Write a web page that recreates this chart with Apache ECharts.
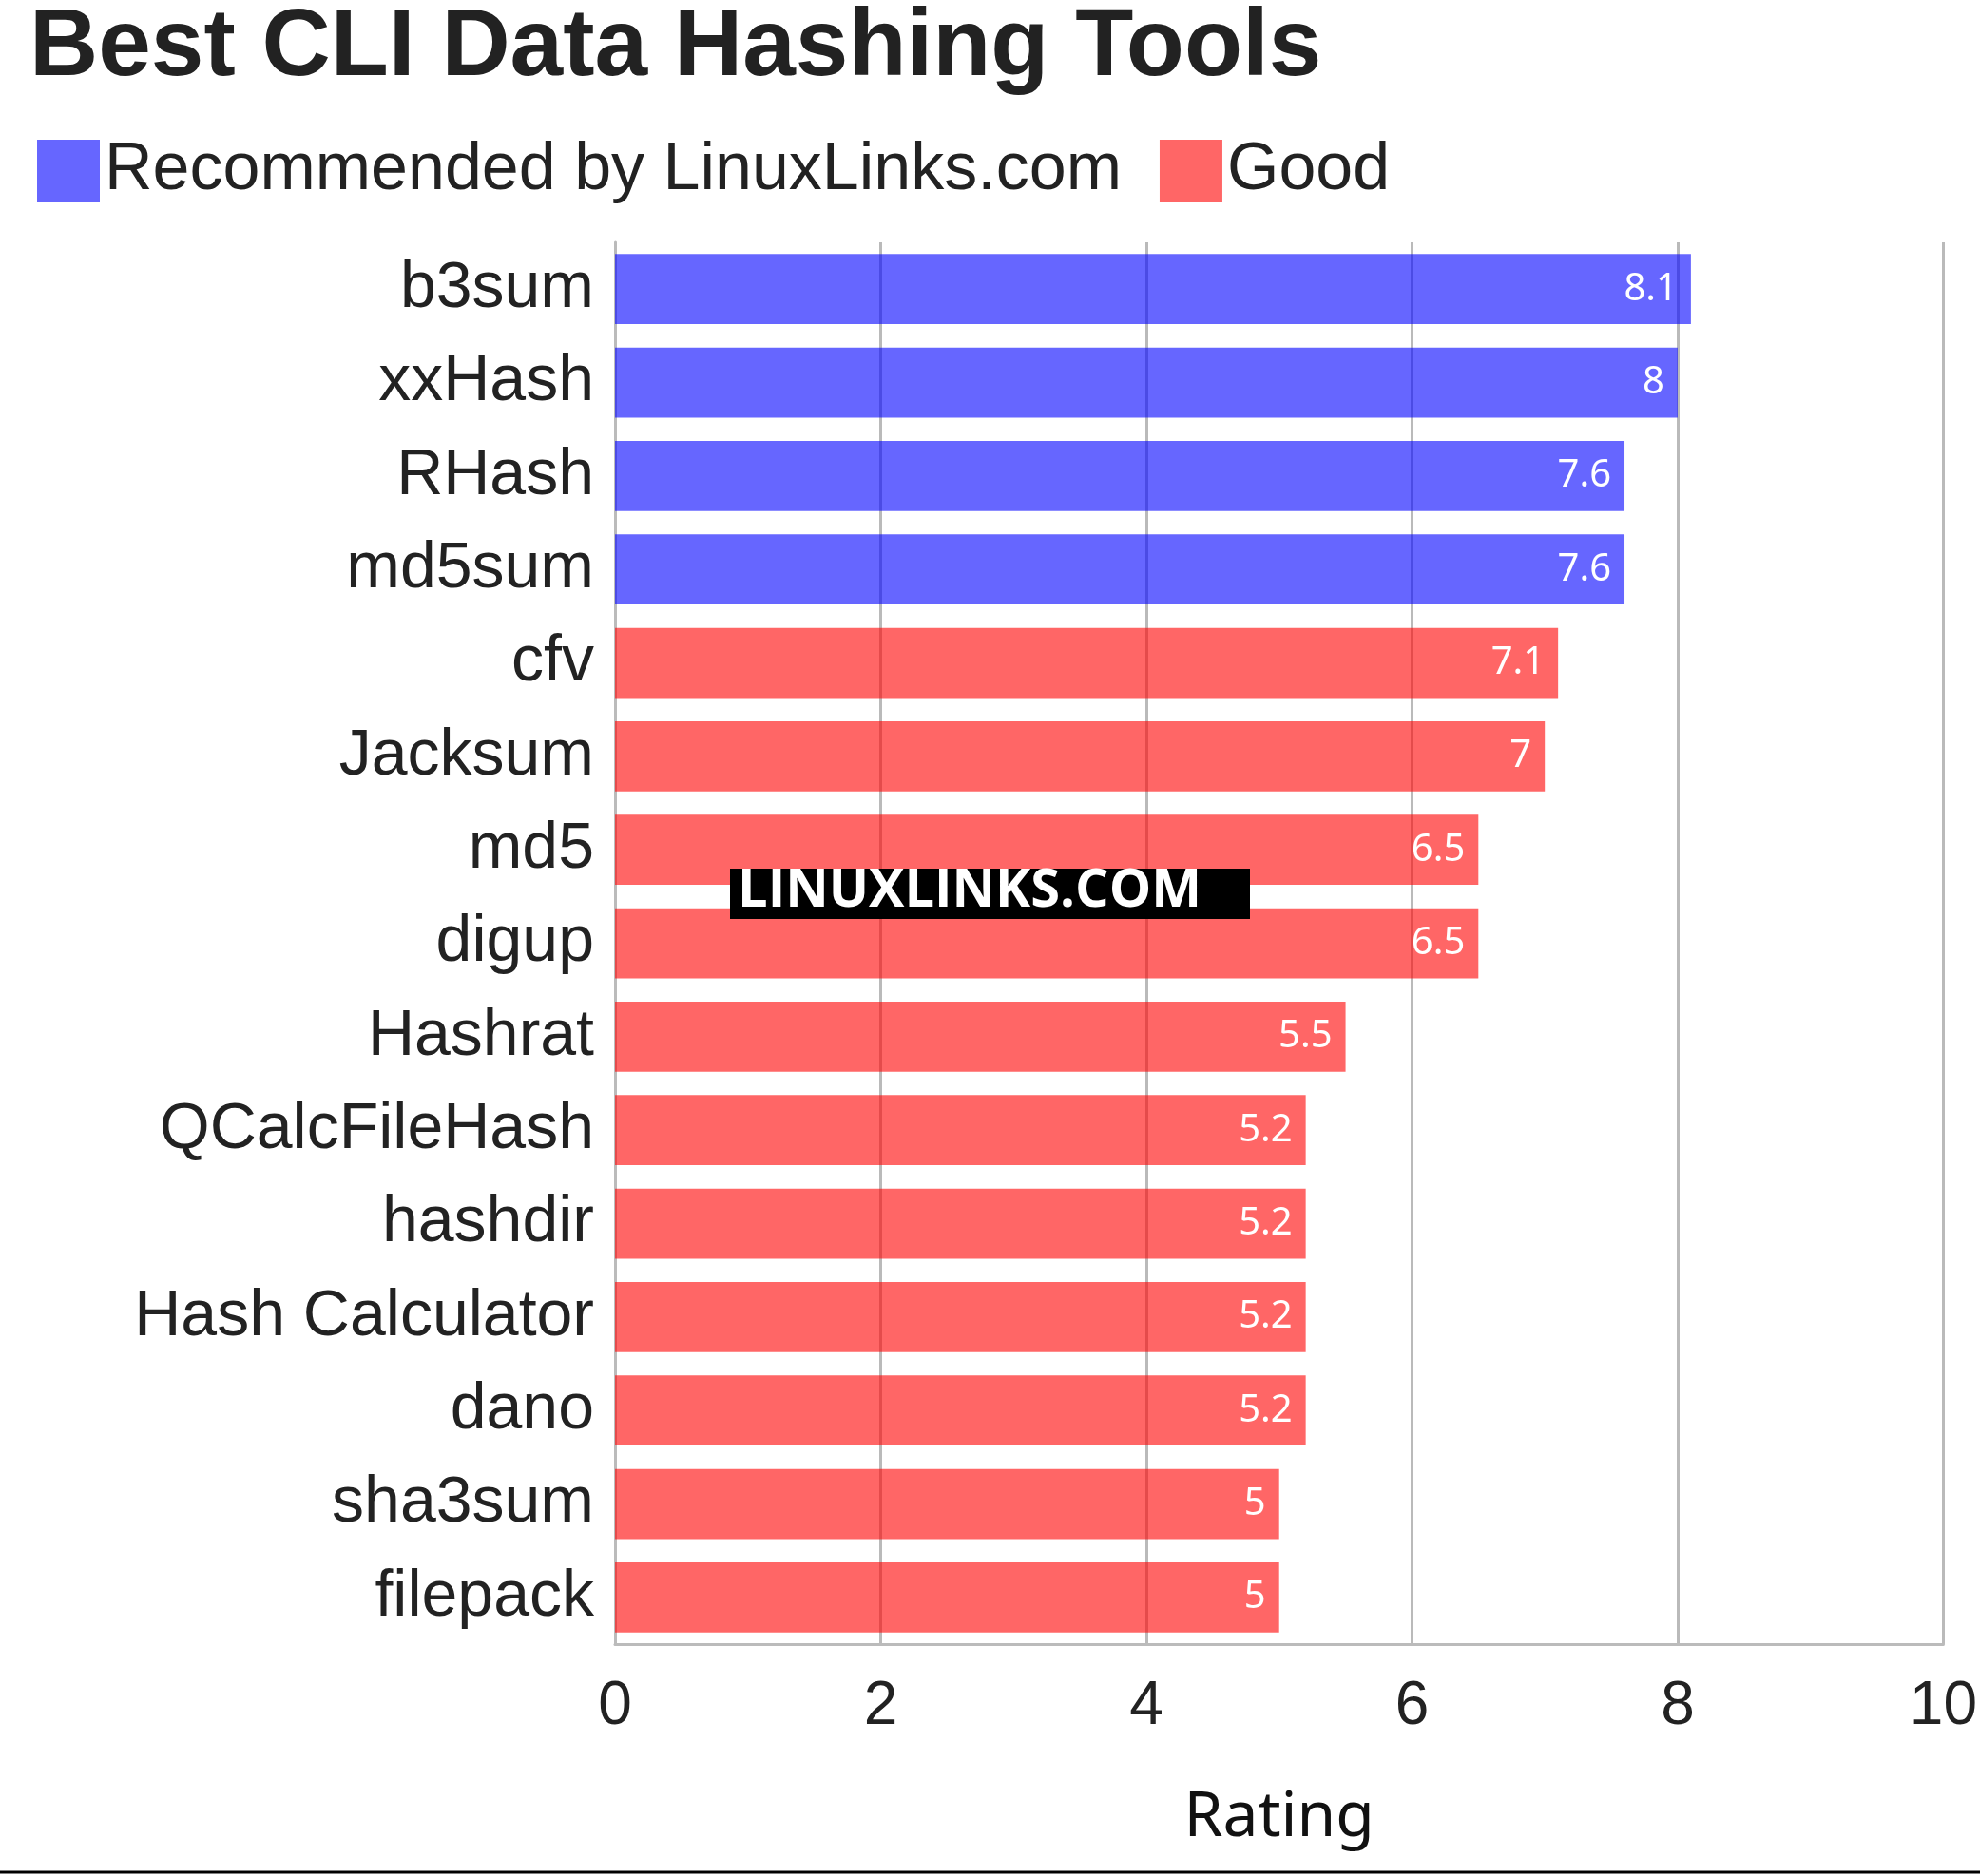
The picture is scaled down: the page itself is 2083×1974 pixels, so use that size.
<!DOCTYPE html>
<html><head><meta charset="utf-8">
<script src="https://cdn.jsdelivr.net/npm/echarts@6/dist/echarts.min.js"></script>
<style>html,body{margin:0;padding:0;background:#fff}#c{width:2083px;height:1974px}</style>
</head><body><div id="c"></div>
<script>
const categories = ["b3sum","xxHash","RHash","md5sum","cfv","Jacksum","md5","digup","Hashrat","QCalcFileHash","hashdir","Hash Calculator","dano","sha3sum","filepack"];
const recommended = [8.1,8,7.6,7.6,null,null,null,null,null,null,null,null,null,null,null];
const good = [null,null,null,null,7.1,7,6.5,6.5,5.5,5.2,5.2,5.2,5.2,5,5];
const xTicks = [0,2,4,6,8,10];

const chart = echarts.init(document.getElementById('c'));
const lbl = {show:true,position:'insideRight',color:'#fff',fontFamily:'Noto Sans',fontSize:40,distance:14,
  formatter:p=>p.value==null?'':String(p.value)};
chart.setOption({
  animation:false,
  title:{text:'Best CLI Data Hashing Tools',left:26,top:-4,textStyle:{fontFamily:'Liberation Sans',fontWeight:'bold',fontSize:100,color:'#222'}},
  legend:{left:34,top:140,itemWidth:66,itemHeight:66,itemGap:40,icon:'rect',
    textStyle:{fontFamily:'Liberation Sans',fontSize:70,color:'#222'},data:['Recommended by LinuxLinks.com','Good']},
  grid:{left:647,right:26,top:255,bottom:244,containLabel:false},
  xAxis:{type:'value',min:0,max:10,interval:2,
    axisLine:{show:true,lineStyle:{color:'#bbb',width:3}},axisTick:{show:false},
    splitLine:{show:true,lineStyle:{color:'rgba(0,0,0,0.27)',width:3}},
    axisLabel:{fontFamily:'Liberation Sans',fontSize:64,color:'#222',margin:34,formatter:v=>xTicks.includes(v)?String(v):''},
    name:'Rating',nameLocation:'middle',nameGap:150,nameTextStyle:{fontFamily:'Noto Sans',fontSize:66,color:'#111'}},
  yAxis:{type:'category',inverse:true,data:categories,
    axisLine:{show:true,lineStyle:{color:'#bbb',width:3}},axisTick:{show:false},
    axisLabel:{fontFamily:'Liberation Sans',fontSize:68,color:'#222',margin:22}},
  series:[
    {name:'Recommended by LinuxLinks.com',type:'bar',stack:'s',data:recommended,barWidth:'75%',itemStyle:{color:'rgba(0,0,255,0.6)'},label:lbl,z:1},
    {name:'Good',type:'bar',stack:'s',data:good,barWidth:'75%',itemStyle:{color:'rgba(255,0,0,0.6)'},label:lbl,z:1}
  ],
  graphic:[
    {type:'rect',left:768,top:914,shape:{width:547,height:53},style:{fill:'#000'},z:100},
    {type:'text',left:776,top:910,style:{text:'LINUXLINKS.COM',fill:'#fff',font:'bold 56px "Open Sans"'},z:101},
    {type:'line',shape:{x1:0,y1:1970,x2:2083,y2:1970},style:{stroke:'#000',lineWidth:3},z:100}
  ]
});
</script></body></html>
